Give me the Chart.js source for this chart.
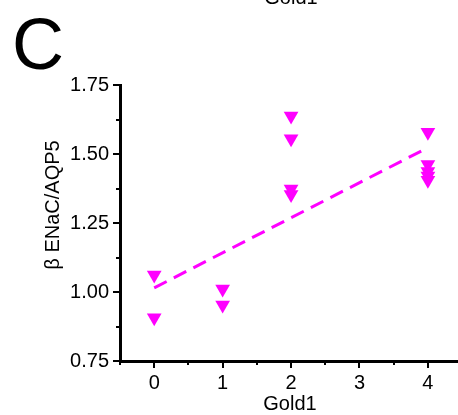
<!DOCTYPE html>
<html>
<head>
<meta charset="utf-8">
<script src="https://cdn.jsdelivr.net/npm/chart.js@4/dist/chart.umd.min.js"></script>
<style>
html,body{margin:0;padding:0;background:#fff;}
#wrap{width:458px;height:415px;position:relative;}
</style>
</head>
<body>
<div id="wrap"><canvas id="c" width="458" height="415"></canvas></div>
<script>
// Data
const gold1X = [0, 0, 1, 1, 2, 2, 2, 2, 4, 4, 4, 4, 4];
const ratioY = [1.062, 0.907, 1.011, 0.953, 1.638, 1.555, 1.373, 1.353, 1.579, 1.462, 1.437, 1.42, 1.405];
const fitX = [0, 4];
const fitY = [1.015, 1.523];
const xTicks = [0, 1, 2, 3, 4];
const yTicks = [0.75, 1.00, 1.25, 1.50, 1.75];
const xMinorTicks = [-0.5, 0.5, 1.5, 2.5, 3.5];
const yMinorTicks = [0.875, 1.125, 1.375, 1.625];
const xTitle = 'Gold1';
const yTitle = 'β ENaC/AQP5';
const panelLabel = 'C';

const FONT = 'Liberation Sans, Arial, sans-serif';
const MAG = '#ff00ff';

const overlay = {
  id: 'overlay',
  afterDraw(chart) {
    const ctx = chart.ctx;
    const xs = chart.scales.x, ys = chart.scales.y;
    ctx.save();
    // minor ticks
    ctx.strokeStyle = '#000';
    ctx.lineWidth = 2;
    ctx.beginPath();
    xMinorTicks.forEach(v => {
      const px = Math.round(xs.getPixelForValue(v));
      ctx.moveTo(px, ys.bottom); ctx.lineTo(px, ys.bottom + 4);
    });
    yMinorTicks.forEach(v => {
      const py = Math.round(ys.getPixelForValue(v));
      ctx.moveTo(xs.left, py); ctx.lineTo(xs.left - 4, py);
    });
    ctx.stroke();
    // texts
    ctx.fillStyle = '#000';
    ctx.font = '72px ' + FONT;
    ctx.textAlign = 'left';
    ctx.textBaseline = 'alphabetic';
    ctx.fillText(panelLabel, 12, 69);
    ctx.font = '20px ' + FONT;
    ctx.textAlign = 'center';
    ctx.fillText(xTitle, 291, 4);
    ctx.fillText(xTitle, 290, 410);
    ctx.translate(59, 205);
    ctx.rotate(-Math.PI / 2);
    ctx.textBaseline = 'alphabetic';
    ctx.fillText(yTitle, 0, 0);
    ctx.restore();
  }
};

new Chart(document.getElementById('c'), {
  type: 'scatter',
  data: {
    datasets: [
      {
        type: 'line',
        data: fitX.map((x, i) => ({x, y: fitY[i]})),
        borderColor: MAG,
        borderWidth: 3,
        borderDash: [14, 8],
        pointRadius: 0,
        fill: false,
        order: 2
      },
      {
        data: gold1X.map((x, i) => ({x, y: ratioY[i]})),
        pointStyle: 'triangle',
        rotation: 180,
        pointRadius: 8.5,
        backgroundColor: MAG,
        borderColor: MAG,
        borderWidth: 0,
        order: 1
      }
    ]
  },
  options: {
    responsive: false,
    animation: false,
    events: [],
    layout: { autoPadding: false, padding: { top: 85, left: 0, right: 0, bottom: 0 } },
    plugins: { legend: { display: false }, tooltip: { enabled: false }, title: { display: false } },
    scales: {
      x: {
        type: 'linear',
        min: -0.5,
        max: 4.44,
        afterBuildTicks: s => { s.ticks = xTicks.map(v => ({value: v})); },
        afterFit: s => { s.height = 54; s.paddingRight = 0; s.paddingLeft = 0; },
        grid: { display: true, drawOnChartArea: false, drawTicks: true, tickLength: 7, color: '#000', lineWidth: 2 },
        border: { display: true, color: '#000', width: 3 },
        ticks: { color: '#000', font: { family: FONT, size: 20 }, padding: 3, maxRotation: 0,
                 callback: v => String(v) }
      },
      y: {
        type: 'linear',
        min: 0.75,
        max: 1.75,
        afterBuildTicks: s => { s.ticks = yTicks.map(v => ({value: v})); },
        afterFit: s => { s.width = 120; s.paddingTop = 0; s.paddingBottom = 0; },
        grid: { display: true, drawOnChartArea: false, drawTicks: true, tickLength: 7, color: '#000', lineWidth: 2 },
        border: { display: true, color: '#000', width: 3 },
        ticks: { color: '#000', font: { family: FONT, size: 20 }, padding: 4,
                 callback: v => Number(v).toFixed(2) }
      }
    }
  },
  plugins: [overlay]
});
</script>
</body>
</html>
